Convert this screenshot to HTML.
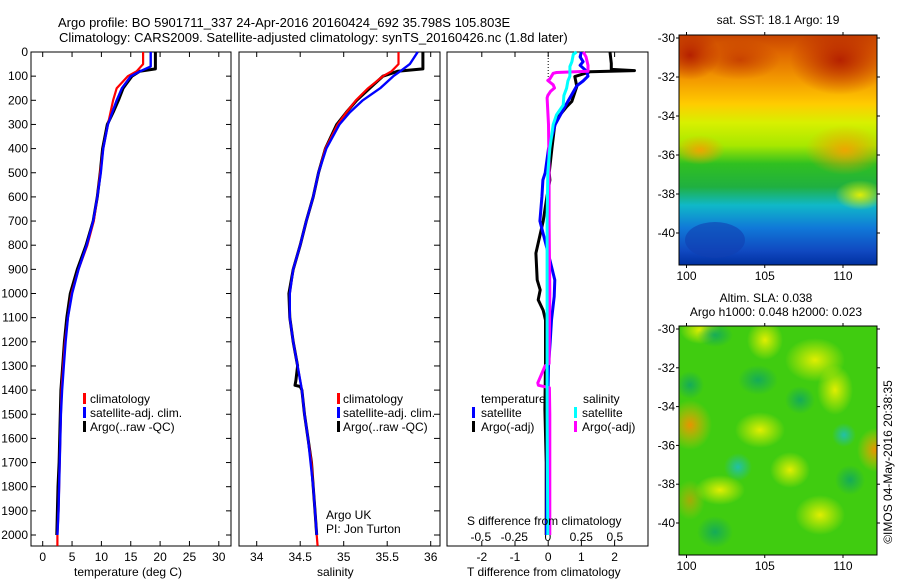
<!DOCTYPE html>
<html><head><meta charset="utf-8">
<style>
html,body{margin:0;padding:0;background:#fff;}
svg{display:block;font-family:"Liberation Sans",sans-serif;}
text{fill:#000;}
</style></head>
<body>
<svg id="chart" width="900" height="580" viewBox="0 0 900 580" xmlns="http://www.w3.org/2000/svg">
<defs>
<linearGradient id="sstGrad" x1="0" y1="0" x2="0" y2="1">
<stop offset="0" stop-color="#c84400"/>
<stop offset="0.08" stop-color="#e06800"/>
<stop offset="0.2" stop-color="#f49c00"/>
<stop offset="0.3" stop-color="#ffcc00"/>
<stop offset="0.38" stop-color="#d8f000"/>
<stop offset="0.48" stop-color="#a8e800"/>
<stop offset="0.56" stop-color="#30c020"/>
<stop offset="0.66" stop-color="#20b040"/>
<stop offset="0.74" stop-color="#10b8c8"/>
<stop offset="0.84" stop-color="#1078d8"/>
<stop offset="0.94" stop-color="#1048c0"/>
<stop offset="1" stop-color="#0030a0"/>
</linearGradient>
<radialGradient id="redBlob"><stop offset="0" stop-color="#b01800" stop-opacity="0.9"/><stop offset="1" stop-color="#b01800" stop-opacity="0"/></radialGradient>
<radialGradient id="orgBlob"><stop offset="0" stop-color="#f8a000" stop-opacity="0.9"/><stop offset="1" stop-color="#f8a000" stop-opacity="0"/></radialGradient>
<radialGradient id="ylwBlob"><stop offset="0" stop-color="#e8f000" stop-opacity="0.95"/><stop offset="1" stop-color="#e8f000" stop-opacity="0"/></radialGradient>
<radialGradient id="dgBlob"><stop offset="0" stop-color="#10a860" stop-opacity="0.9"/><stop offset="1" stop-color="#10a860" stop-opacity="0"/></radialGradient>
<radialGradient id="tealBlob"><stop offset="0" stop-color="#20c0b0" stop-opacity="0.95"/><stop offset="1" stop-color="#20c0b0" stop-opacity="0"/></radialGradient>
<radialGradient id="oBlob2"><stop offset="0" stop-color="#f09000" stop-opacity="0.95"/><stop offset="1" stop-color="#f0c000" stop-opacity="0"/></radialGradient>
<clipPath id="m1clip"><rect x="679" y="35" width="198" height="230"/></clipPath>
<clipPath id="m2clip"><rect x="679" y="326" width="198" height="229"/></clipPath>
</defs>

<text x="58" y="27" font-size="13">Argo profile: BO 5901711_337 24-Apr-2016 20160424_692 35.798S 105.803E</text>
<text x="59" y="42" font-size="13">Climatology: CARS2009. Satellite-adjusted climatology: synTS_20160426.nc (1.8d later)</text>

<g id="axes"></g>
<g id="series"></g>

<!-- legends -->
<g font-size="12">
<rect x="83" y="393" width="3" height="11" fill="#f00"/><text x="90" y="403">climatology</text>
<rect x="83" y="407" width="3" height="11" fill="#00f"/><text x="90" y="417">satellite-adj. clim.</text>
<rect x="83" y="421" width="3" height="11" fill="#000"/><text x="90" y="431">Argo(..raw -QC)</text>
</g>
<g font-size="12">
<rect x="337" y="393" width="3" height="11" fill="#f00"/><text x="343" y="403">climatology</text>
<rect x="337" y="407" width="3" height="11" fill="#00f"/><text x="343" y="417">satellite-adj. clim.</text>
<rect x="337" y="421" width="3" height="11" fill="#000"/><text x="343" y="431">Argo(..raw -QC)</text>
</g>
<text x="326" y="519" font-size="12">Argo UK</text>
<text x="326" y="533" font-size="12">PI: Jon Turton</text>
<g font-size="12">
<text x="481" y="403">temperature</text>
<text x="583" y="403">salinity</text>
<rect x="472" y="407" width="3" height="11" fill="#00f"/><text x="481" y="417">satellite</text>
<rect x="472" y="421" width="3" height="11" fill="#000"/><text x="481" y="431">Argo(-adj)</text>
<rect x="574" y="407" width="3" height="11" fill="#0ff"/><text x="582" y="417">satellite</text>
<rect x="574" y="421" width="3" height="11" fill="#f0f"/><text x="582" y="431">Argo(-adj)</text>
</g>
<text x="467" y="525" font-size="12">S difference from climatology</text>
<text x="467" y="576" font-size="12">T difference from climatology</text>
<text x="74" y="576" font-size="12">temperature (deg C)</text>
<text x="317" y="576" font-size="12">salinity</text>

<!-- SST map -->
<text x="778" y="24" font-size="12" text-anchor="middle">sat. SST: 18.1 Argo: 19</text>
<g clip-path="url(#m1clip)">
<rect x="679" y="35" width="198" height="230" fill="url(#sstGrad)"/>
<ellipse cx="840" cy="60" rx="50" ry="35" fill="url(#redBlob)"/>
<ellipse cx="690" cy="55" rx="30" ry="25" fill="url(#redBlob)"/>
<ellipse cx="740" cy="60" rx="40" ry="20" fill="url(#redBlob)" opacity="0.6"/>
<ellipse cx="845" cy="150" rx="40" ry="25" fill="url(#orgBlob)"/>
<ellipse cx="700" cy="150" rx="25" ry="15" fill="url(#orgBlob)"/>
<ellipse cx="860" cy="195" rx="25" ry="15" fill="url(#ylwBlob)"/>
<ellipse cx="715" cy="240" rx="30" ry="18" fill="#1040b0" opacity="0.6"/>
</g>
<rect x="679" y="35" width="198" height="230" fill="none" stroke="#000"/>
<g id="map1ticks" font-size="12"></g>

<!-- SLA map -->
<text x="766" y="302" font-size="12" text-anchor="middle">Altim. SLA: 0.038</text>
<text x="776" y="316" font-size="12" text-anchor="middle">Argo h1000: 0.048 h2000: 0.023</text>
<g clip-path="url(#m2clip)">
<rect x="679" y="326" width="198" height="229" fill="#40cc10"/>
<ellipse cx="700" cy="330" rx="20" ry="14" fill="url(#ylwBlob)"/>
<ellipse cx="765" cy="340" rx="18" ry="20" fill="url(#ylwBlob)"/>
<ellipse cx="815" cy="360" rx="30" ry="22" fill="url(#ylwBlob)"/>
<ellipse cx="835" cy="390" rx="18" ry="25" fill="url(#ylwBlob)"/>
<ellipse cx="690" cy="425" rx="22" ry="25" fill="url(#oBlob2)"/>
<ellipse cx="875" cy="450" rx="18" ry="22" fill="url(#oBlob2)"/>
<ellipse cx="760" cy="430" rx="25" ry="18" fill="url(#ylwBlob)"/>
<ellipse cx="790" cy="470" rx="20" ry="18" fill="url(#ylwBlob)"/>
<ellipse cx="720" cy="490" rx="25" ry="15" fill="url(#ylwBlob)"/>
<ellipse cx="690" cy="500" rx="15" ry="20" fill="url(#oBlob2)" opacity="0.6"/>
<ellipse cx="820" cy="515" rx="25" ry="20" fill="url(#ylwBlob)"/>
<ellipse cx="715" cy="335" rx="18" ry="12" fill="url(#dgBlob)"/>
<ellipse cx="758" cy="380" rx="20" ry="15" fill="url(#dgBlob)"/>
<ellipse cx="738" cy="467" rx="14" ry="14" fill="url(#tealBlob)"/>
<ellipse cx="844" cy="435" rx="12" ry="12" fill="url(#tealBlob)"/>
<ellipse cx="715" cy="532" rx="18" ry="16" fill="url(#dgBlob)"/>
<ellipse cx="800" cy="400" rx="15" ry="14" fill="url(#dgBlob)"/>
<ellipse cx="850" cy="480" rx="15" ry="15" fill="url(#dgBlob)"/>
<ellipse cx="690" cy="385" rx="14" ry="14" fill="url(#dgBlob)"/>
</g>
<rect x="679" y="326" width="198" height="229" fill="none" stroke="#000"/>
<g id="map2ticks" font-size="12"></g>
<text transform="translate(892,462) rotate(-90)" font-size="12" text-anchor="middle">©IMOS 04-May-2016 20:38:35</text>

<script>
// ---- data ----
const depthTicks = [0,100,200,300,400,500,600,700,800,900,1000,1100,1200,1300,1400,1500,1600,1700,1800,1900,2000];
const tempTicks = [0,5,10,15,20,25,30];
const salTicks = [34,34.5,35,35.5,36];
const tdiffTicks = [-2,-1,0,1,2];
const sdiffTicks = [-0.5,-0.25,0,0.25,0.5];
const sdiffTickLabels = ["-0.5","-0.25","0","0.25","0.5"];
const lonTicks = [100,105,110];
const latTicks = [-30,-32,-34,-36,-38,-40];

const tClimP = [0,50,80,100,150,200,300,400,500,600,700,800,900,1000,1100,1200,1300,1400,1500,1600,1700,1800,1900,2000,2045];
const tClimV = [17.1,17.1,16,14.5,12.6,12,11.1,10.3,9.8,9.3,8.7,7.6,6.1,4.9,4.3,3.8,3.5,3.2,3.1,3.0,2.9,2.8,2.7,2.5,2.5];
const tSatP  = [0,60,80,100,150,200,300,400,500,600,700,800,900,1000,1100,1200,1300,1400,1500,1600,1700,1800,1900,2000];
const tSatV  = [18.4,18.4,16.6,15.0,13.5,12.6,11.1,10.3,9.9,9.3,8.6,7.5,6.1,5.0,4.3,3.9,3.6,3.3,3.1,3.0,2.9,2.8,2.7,2.5];
const tArgoP = [0,70,80,100,150,200,250,300,400,500,600,700,800,900,1000,1100,1200,1300,1400,1500,1600,1700,1800,1900,2000];
const tArgoV = [19.2,19.2,16.5,15.2,13.7,12.9,12,11.0,10.2,9.8,9.3,8.6,7.4,5.9,4.7,4.1,3.7,3.4,3.1,3.0,2.9,2.8,2.6,2.5,2.4];

const sClimP = [0,50,80,100,150,200,250,300,400,500,600,700,800,900,1000,1100,1200,1300,1400,1500,1600,1700,1800,1900,2000,2045];
const sClimV = [35.63,35.63,35.55,35.45,35.28,35.14,35.03,34.93,34.79,34.71,34.65,34.57,34.5,34.42,34.38,34.38,34.42,34.47,34.52,34.55,34.59,34.63,34.65,34.67,34.69,34.7];
const sSatP  = [0,50,80,100,150,200,250,300,400,500,600,700,800,900,1000,1100,1200,1300,1400,1500,1600,1700,1800,1900,2000];
const sSatV  = [35.85,35.76,35.65,35.57,35.42,35.22,35.07,34.95,34.8,34.71,34.65,34.57,34.5,34.42,34.38,34.38,34.42,34.47,34.52,34.55,34.59,34.62,34.65,34.67,34.69];
const sArgoP = [0,70,80,100,150,200,250,300,400,500,600,700,800,900,1000,1100,1200,1300,1360,1380,1385,1400,1500,1600,1700,1800,1900,2000];
const sArgoV = [35.91,35.91,35.62,35.45,35.3,35.15,35.03,34.92,34.79,34.71,34.65,34.57,34.5,34.42,34.37,34.38,34.42,34.47,34.45,34.44,34.5,34.52,34.55,34.59,34.63,34.65,34.67,34.69];

const dTArgoP = [0,47,72,77,82,102,143,205,226,268,300,400,500,530,600,700,833,944,985,1026,1070,1110,1280,1480,1700,2000];
const dTArgoV = [1.86,1.9,1.9,2.6,1.26,0.8,0.86,0.71,0.56,0.31,0.2,0.11,0.03,0.05,-0.04,-0.15,-0.37,-0.33,-0.24,-0.3,-0.15,-0.08,-0.08,-0.1,-0.06,-0.06];
const dTSatP  = [0,20,40,55,80,100,120,140,200,250,300,400,500,530,600,700,833,944,1013,1110,1200,1300,1500,2000];
const dTSatV  = [1.0,0.96,1.05,0.96,1.16,1.2,1.05,0.86,0.61,0.41,0.21,0.01,-0.09,-0.16,-0.19,-0.25,0.0,0.2,0.18,0.1,0.06,0.01,-0.02,-0.05];
const dSSatP  = [0,10,40,60,100,120,150,180,220,260,300,400,500,700,1000,1500,2000];
const dSSatV  = [0.215,0.19,0.18,0.165,0.165,0.15,0.14,0.12,0.115,0.065,0.04,0.015,0.0,-0.005,-0.005,-0.005,0.0];
const dSArgoP = [0,20,55,80,85,88,112,118,136,149,163,180,190,300,500,700,1000,1290,1300,1370,1380,1390,1500,2000];
const dSArgoV = [0.265,0.285,0.30,0.30,0.065,0.04,0.015,0.0,0.04,0.05,0.02,0.0,-0.005,0.005,0.01,0.01,0.015,0.01,-0.02,-0.075,-0.07,0.012,0.015,0.015];

// ---- axis functions ----
const yTop = 52, yBot = 546, pScale = 0.2415;
const yP = p => yTop + p * pScale;
const xTemp = v => 42.7 + v * 5.87;
const xSal = v => 256.7 + (v - 34) * 87;
const xTd = v => 548.2 + v * 33.2;
const xSd = v => 547.8 + v * 134;
const xLon = v => 686.5 + (v - 100) * 15.65;
const yLat1 = v => 38 + (-30 - v) * 19.5;
const yLat2 = v => 329 + (-30 - v) * 19.4;

const NS = "http://www.w3.org/2000/svg";
function mk(tag, parent) { const e = document.createElementNS(NS, tag); parent.appendChild(e); return e; }
const axes = document.getElementById('axes');
const series = document.getElementById('series');

const panels = [[31, 231, 'temperature-panel-frame'], [239, 440, 'salinity-panel-frame'], [447, 648, 'difference-panel-frame']];
panels.forEach(pn => {
  const r = mk('rect', axes);
  r.setAttribute('x', pn[0]); r.setAttribute('y', yTop);
  r.setAttribute('width', pn[1] - pn[0]); r.setAttribute('height', yBot - yTop);
  r.setAttribute('fill', 'none'); r.setAttribute('stroke', '#000');
  
  
});

depthTicks.forEach(p => {
  const t = mk('text', axes);
  t.setAttribute('x', 28); t.setAttribute('y', yP(p) + 4);
  t.setAttribute('font-size', '12'); t.setAttribute('text-anchor', 'end');
  t.textContent = p;
  
  
  [[31, 36], [226, 231], [434, 440]].forEach(s => {
    const l = mk('line', axes);
    l.setAttribute('x1', s[0]); l.setAttribute('x2', s[1]);
    l.setAttribute('y1', yP(p)); l.setAttribute('y2', yP(p));
    l.setAttribute('stroke', '#000');
    
    
  });
});

function xTicks(vals, labels, fx, y, ly, name) {
  vals.forEach((v, i) => {
    const x = fx(v);
    if (y !== null) {
      [[yBot - 5, yBot], [yTop, yTop + 5]].forEach(s => {
        const l = mk('line', axes);
        l.setAttribute('x1', x); l.setAttribute('x2', x);
        l.setAttribute('y1', s[0]); l.setAttribute('y2', s[1]);
        l.setAttribute('stroke', '#000');
        
        
      });
    }
    const t = mk('text', axes);
    t.setAttribute('x', x); t.setAttribute('y', ly);
    t.setAttribute('font-size', '12'); t.setAttribute('text-anchor', 'middle');
    t.textContent = labels[i];
    
    
  });
}
xTicks(tempTicks, tempTicks, xTemp, 1, 561, 'temperature');
xTicks(salTicks, salTicks, xSal, 1, 561, 'salinity');
xTicks(tdiffTicks, tdiffTicks, xTd, 1, 561, 't-diff');
xTicks(sdiffTicks, sdiffTickLabels, xSd, null, 541, 's-diff');

// zero line
const z = mk('line', series);
z.setAttribute('x1', xTd(0)); z.setAttribute('x2', xTd(0));
z.setAttribute('y1', yTop); z.setAttribute('y2', yP(120));
z.setAttribute('stroke', '#000'); z.setAttribute('stroke-dasharray', '1,2');



function line(P, V, fx, color, w, name) {
  const pl = mk('polyline', series);
  pl.setAttribute('points', P.map((p, i) => fx(V[i]).toFixed(1) + ',' + yP(p).toFixed(1)).join(' '));
  pl.setAttribute('fill', 'none'); pl.setAttribute('stroke', color);
  pl.setAttribute('stroke-width', w); pl.setAttribute('stroke-linejoin', 'round');
  
  
}
line(tArgoP, tArgoV, xTemp, '#000', 3, 'temperature-argo-line');
line(tClimP, tClimV, xTemp, '#f00', 2.2, 'temperature-climatology-line');
line(tSatP, tSatV, xTemp, '#00f', 2.4, 'temperature-satellite-line');
line(sArgoP, sArgoV, xSal, '#000', 3, 'salinity-argo-line');
line(sClimP, sClimV, xSal, '#f00', 2.2, 'salinity-climatology-line');
line(sSatP, sSatV, xSal, '#00f', 2.4, 'salinity-satellite-line');
line(dTArgoP, dTArgoV, xTd, '#000', 3, 't-diff-argo-line');
line(dTSatP, dTSatV, xTd, '#00f', 3, 't-diff-satellite-line');
line(dSArgoP, dSArgoV, xSd, '#f0f', 3, 's-diff-argo-line');
line(dSSatP, dSSatV, xSd, '#0ff', 3, 's-diff-satellite-line');

// map ticks
function mapTicks(gid, yTopM, yBotM, fyLat, prefix) {
  const g = document.getElementById(gid);
  lonTicks.forEach(v => {
    const t = mk('text', g);
    t.setAttribute('x', xLon(v)); t.setAttribute('y', yBotM + 15);
    t.setAttribute('text-anchor', 'middle');
    t.textContent = v;
    
    
    [[yTopM - 3, yTopM], [yBotM, yBotM + 3]].forEach(s => {
      const l = mk('line', g);
      l.setAttribute('x1', xLon(v)); l.setAttribute('x2', xLon(v));
      l.setAttribute('y1', s[0]); l.setAttribute('y2', s[1]);
      l.setAttribute('stroke', '#000');
      
      
    });
  });
  latTicks.forEach(v => {
    const t = mk('text', g);
    t.setAttribute('x', 675); t.setAttribute('y', fyLat(v) + 4);
    t.setAttribute('text-anchor', 'end');
    t.textContent = v;
    
    
    [[676, 679], [877, 880]].forEach(s => {
      const l = mk('line', g);
      l.setAttribute('x1', s[0]); l.setAttribute('x2', s[1]);
      l.setAttribute('y1', fyLat(v)); l.setAttribute('y2', fyLat(v));
      l.setAttribute('stroke', '#000');
      
      
    });
  });
}
mapTicks('map1ticks', 35, 265, yLat1, 'sst-map');
mapTicks('map2ticks', 326, 555, yLat2, 'sla-map');
</script>
</svg>
</body></html>
